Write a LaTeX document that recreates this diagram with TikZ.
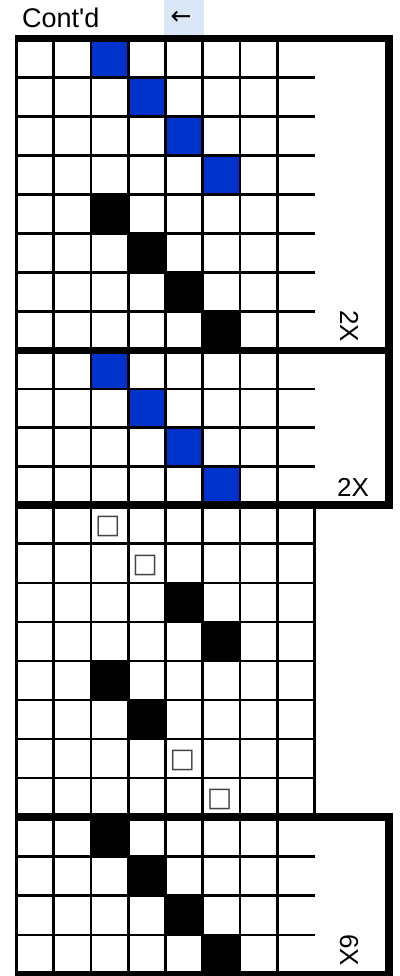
\documentclass[tikz,border=0pt]{standalone}
\usepackage{fontspec}
\setmainfont{Liberation Sans}
\newfontfamily\plainfont{Liberation Sans}
\newfontfamily\symfont{DejaVu Sans}
\definecolor{cellblue}{HTML}{0033CC}
\definecolor{selblue}{HTML}{DAE7F7}
\definecolor{boxgray}{HTML}{444444}
\newcommand\gridcell[5]{% top, step, row, col, color
  \fill[#5] ({16.3+37.3*(#4-1)},{#1+#2*(#3-1)}) rectangle ({16.3+37.3*#4},{#1+#2*#3});}
\begin{document}
\begin{tikzpicture}[x=1pt,y=-1pt,
  thinline/.style={line width=2.7pt,line cap=butt},
  thickline/.style={line width=7.6pt,line cap=butt},
  lbl/.style={font=\fontsize{26}{28}\selectfont,inner sep=0pt},
  emptybox/.style={font=\symfont\fontsize{27}{29}\selectfont,inner sep=0pt,text=boxgray}]
\useasboundingbox (0,0) rectangle (399,976);
\clip (0,0) rectangle (399,976);
% header
\fill[selblue] (164,0) rectangle (204.3,35);
\node[font=\plainfont\fontsize{27}{29}\selectfont,inner sep=0pt,anchor=base west] (contd) at (22,27.3) {Cont'd};
\node[font=\symfont\fontsize{25}{27}\selectfont,inner sep=0pt] (arrow) at (181,17.7) {←};
% coloured cells
\foreach \r/\c in {1/3,2/4,3/5,4/6}{\gridcell{38.7}{38.975}{\r}{\c}{cellblue}}
\foreach \r/\c in {5/3,6/4,7/5,8/6}{\gridcell{38.7}{38.975}{\r}{\c}{black}}
\foreach \r/\c in {1/3,2/4,3/5,4/6}{\gridcell{350.5}{38.575}{\r}{\c}{cellblue}}
\foreach \r/\c in {3/5,4/6,5/3,6/4}{\gridcell{504.8}{39.025}{\r}{\c}{black}}
\foreach \r/\c in {1/3,2/4,3/5,4/6}{\gridcell{817}{39.375}{\r}{\c}{black}}
% thin horizontal lines
\foreach \k in {1,...,7}{\draw[thinline] (15,{38.7+38.975*\k}) -- (315,{38.7+38.975*\k});}
\foreach \k in {1,...,3}{\draw[thinline] (15,{350.5+38.575*\k}) -- (315,{350.5+38.575*\k});}
\foreach \k in {1,...,7}{\draw[thinline] (15,{504.8+39.025*\k}) -- (316,{504.8+39.025*\k});}
\foreach \k in {1,...,3}{\draw[thinline] (15,{817+39.375*\k}) -- (315,{817+39.375*\k});}
% thin vertical lines
\foreach \i in {0,...,7}{\draw[thinline] ({16.3+37.3*\i},35) -- ({16.3+37.3*\i},976);}
\draw[thinline] (314.7,504.8) -- (314.7,817);
% thick horizontal lines
\foreach \y in {38.7,350.5,504.8,817,974.7}{\draw[thickline] (15,\y) -- (392.7,\y);}
% thick right borders
\draw[thickline] (388.85,34.9) -- (388.85,508.6);
\draw[thickline] (388.85,813.2) -- (388.85,976);
% empty boxes
\foreach \r/\c [count=\n] in {1/3,2/4,7/5,8/6}{
  \node[emptybox] (box\n) at ({16.3+37.3*(\c-0.5)-1.7},{504.8+39.025*(\r-0.5)+1.7}) {□};}
% labels
\node[lbl,rotate=-90,anchor=base west] (rep1) at (340,310) {2X};
\node[lbl,anchor=base west] (rep2) at (337,496) {2X};
\node[lbl,rotate=-90,anchor=base west] (rep4) at (340,934) {6X};
\end{tikzpicture}
\end{document}
